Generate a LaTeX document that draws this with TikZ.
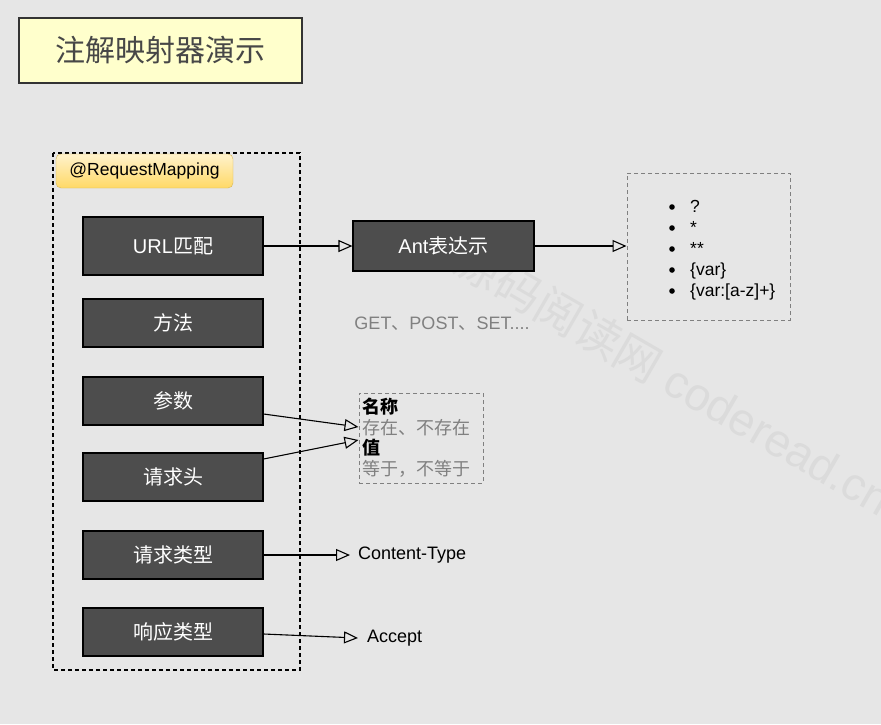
\documentclass[tikz,border=0pt]{standalone}
\usepackage{fontspec}
\setmainfont{Liberation Sans}
\newfontfamily\cjk{Noto Sans CJK SC}
\usepackage{tikz}
\usetikzlibrary{arrows.meta, positioning, calc}
\definecolor{pagebg}{HTML}{E6E6E6}
\definecolor{boxdark}{HTML}{4D4D4D}
\definecolor{notegray}{HTML}{808080}
\definecolor{titlefill}{HTML}{FFFFCC}
\definecolor{tagtop}{HTML}{FFF2CC}
\definecolor{tagbot}{HTML}{FFD966}
\definecolor{tagline}{HTML}{D6B656}
\definecolor{wmark}{HTML}{DBDBDB}
\newcommand{\fs}[1]{\fontsize{#1}{#1}\selectfont}

\begin{document}
\begin{tikzpicture}
    [x=1pt, y=-1pt,
     >={Triangle[open, length=14pt, width=12pt]},
     dark/.style={draw=black, fill=boxdark, line width=1.2pt, text=white,
                  minimum width=180pt, font=\cjk\fs{20}},
     note/.style={draw=notegray, line width=1pt, dash pattern=on 4pt off 3pt},
     link/.style={->, line width=1.1pt},
    ]
    % Page
    \fill[pagebg] (0, 0) rectangle (881, 724);
    \useasboundingbox (0, 0) rectangle (881, 724);

    % Watermark
    \node[text=wmark, rotate=-30, anchor=west, inner sep=0, font=\fs{46}]
        (wm) at (459, 254) {{\cjk 源码阅读网} coderead.cn};

    % Title
    \node[draw=black!80, fill=titlefill, line width=1.2pt,
          minimum width=283pt, minimum height=65pt,
          text=black!72, font=\cjk\fs{30}] (title) at (160.5, 50.5) {注解映射器演示};

    % Annotation frame
    \draw[line width=1.2pt, dash pattern=on 4pt off 3pt] (53, 153) rectangle (300, 670);
    \node[draw=tagline, top color=tagtop, bottom color=tagbot, rounded corners=5pt,
          minimum width=177pt, minimum height=34pt, font=\fs{17.5}]
        (tag) at (144.5, 171) {@RequestMapping};

    \foreach \nm / \txt / \y / \h in
             {url/{{\rmfamily URL}匹配}/246/58, method/方法/323/48,
              param/参数/401/48, header/请求头/477/48,
              ctype/请求类型/555/48, restype/响应类型/632/48} {
        \node[dark, minimum height=\h pt] (\nm) at (173, \y) {\txt};
    }

    % Ant patterns
    \node[dark, minimum width=181pt, minimum height=50pt] (ant) at (443.5, 246)
        {{\rmfamily Ant}表达示};
    \node[note, minimum width=163pt, minimum height=147pt] (antlist) at (708.5, 246.5) {};
    \foreach \t [count=\i from 0] in {?, *, **, \{var\}, \{var:[a-z]+\}} {
        \node[anchor=base west, inner sep=0, font=\fs{17.5}] (item\i) at (690, 212+21*\i) {\t};
        \fill (672, 207+21*\i) circle (2.8);
    }
    \draw[link] (url) -- (ant);
    \draw[link] (ant.east) -- (ant.east -| antlist.west);

    % Methods
    \node[text=notegray, font=\fs{18}] (verbs) at (442, 324)
        {GET{\cjk 、}POST{\cjk 、}SET....};

    % Params and headers
    \node[note, minimum width=124pt, minimum height=90pt] (pbox) at (421, 438) {};
    \node[anchor=north west, align=left, inner sep=0, font=\cjk\fontsize{18}{20.5}\selectfont]
        (pinfo) at (362, 398)
        {\textbf{名称}\\ {\color{notegray}存在、不存在}\\ \textbf{值}\\ {\color{notegray}等于，不等于}};
    \coordinate (pin1) at ($(pbox.west)+(0, -11)$);
    \coordinate (pin2) at ($(pbox.west)+(0, 2)$);
    \draw[link] ($(param.east)+(0, 13)$) -- (pin1);
    \draw[link] ($(header.east)+(0, -18)$) -- (pin2);

    % Media types
    \node[anchor=west, inner sep=0, font=\fs{18}] (ctypetxt) at (358, 555) {Content-Type};
    \node[anchor=west, inner sep=0, font=\fs{18}] (accept) at (367, 638) {Accept};
    \draw[link] (ctype.east) -- ([xshift=-8pt]ctypetxt.west);
    \draw[link] ($(restype.east)+(0, 2)$) -- ([xshift=-9pt]accept.west);
\end{tikzpicture}
\end{document}
